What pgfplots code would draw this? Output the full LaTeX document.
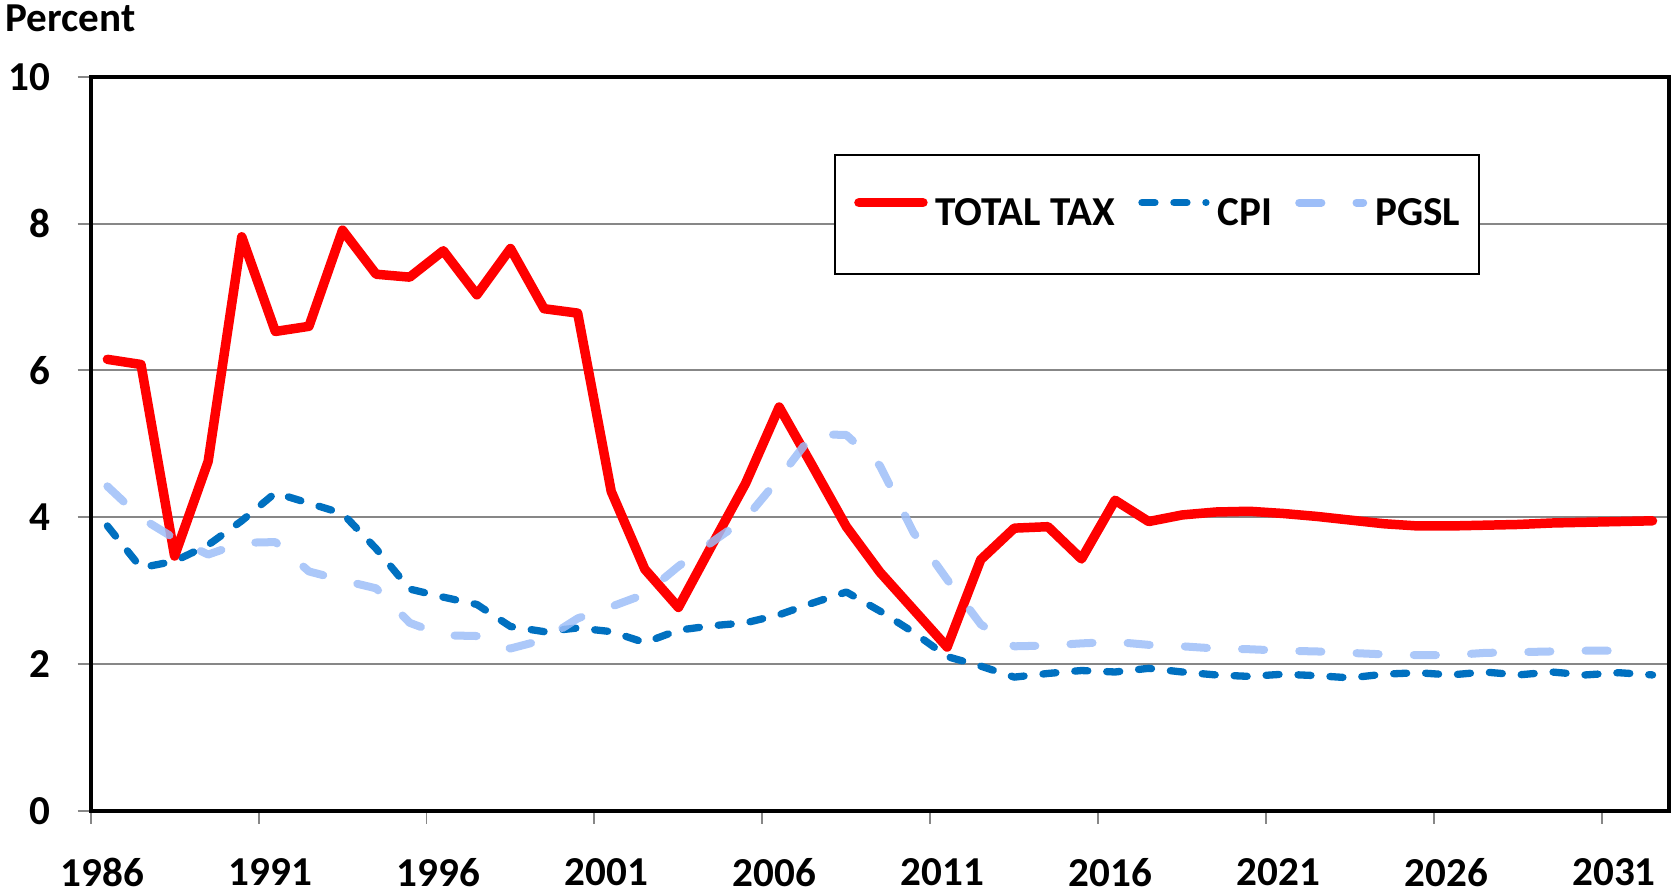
\documentclass[border=0pt]{standalone}
\usepackage{fontspec}
\setmainfont{Carlito}
\usepackage{pgfplots}
\pgfplotsset{compat=1.18}
\definecolor{taxred}{HTML}{FF0000}
\definecolor{cpiblue}{HTML}{0070C0}
\definecolor{pgslblue}{HTML}{9DBEF8}
\definecolor{gridgray}{HTML}{878787}
\newcommand{\lblfont}{\fontsize{11.7}{14}\selectfont\bfseries}

\begin{document}
\begin{tikzpicture}
\begin{axis}[
  scale only axis,
  width=15.787cm, height=7.339cm,
  xmin=1986, xmax=2033,
  ymin=0, ymax=10,
  xtick={1986,1991,1996,2001,2006,2011,2016,2021,2026,2031},
  xticklabels={1986,1991,1996,2001,2006,2011,2016,2021,2026,2031},
  ytick={0,2,4,6,8,10},
  yticklabels={0,2,4,6,8,10},
  xtick pos=left, ytick pos=left,
  ymajorgrids,
  grid style={gridgray, line width=0.55pt},
  axis line style={black, line width=1.1pt},
  tick align=outside,
  major tick length=0.13cm,
  tick style={gridgray, line width=0.55pt},
  ticklabel style={font=\lblfont},
  xticklabel style={inner sep=0pt, anchor=north, yshift=-0.34cm, xshift=0.12cm},
  yticklabel style={inner sep=0pt, anchor=east, xshift=-0.27cm},
  legend columns=3,
  legend image code/.code={\draw[#1] (0cm,0.12cm) -- (0.64cm,0.12cm);},
  legend style={at={(0.471,0.895)}, anchor=north west, draw=black, line width=0.6pt,
    fill=white, inner xsep=0.19cm, inner ysep=0.43cm, font=\lblfont,
    nodes={inner sep=0pt},
    /tikz/every odd column/.append style={column sep=0.08cm},
    /tikz/every even column/.append style={column sep=0.23cm}},
  every axis plot/.append style={line join=round, line cap=round},
]
\addlegendimage{taxred, line width=2.7pt}
\addlegendentry{TOTAL TAX}
\addlegendimage{cpiblue, line width=2.08pt, dash pattern=on 3.7pt off 5.4pt}
\addlegendentry{CPI}
\addlegendimage{pgslblue, line width=2.28pt, dash pattern=on 6.3pt off 10pt}
\addlegendentry{PGSL}

% CPI
\addplot[forget plot, cpiblue, line width=2.08pt, dash pattern=on 3.7pt off 5.4pt] coordinates {
(1986.5,3.88) (1987.5,3.31) (1988.5,3.40) (1989.5,3.62) (1990.5,3.95)
(1991.5,4.33) (1992.5,4.19) (1993.5,4.05) (1994.5,3.57) (1995.5,3.02)
(1996.5,2.91) (1997.5,2.81) (1998.5,2.51) (1999.5,2.44) (2000.5,2.49)
(2001.5,2.44) (2002.5,2.29) (2003.5,2.46) (2004.5,2.52) (2005.5,2.56)
(2006.5,2.67) (2007.5,2.83) (2008.5,2.98) (2009.5,2.72) (2010.5,2.43)
(2011.5,2.10) (2012.5,1.97) (2013.5,1.82) (2014.5,1.87) (2015.5,1.91)
(2016.5,1.89) (2017.5,1.94) (2018.5,1.89) (2019.5,1.85) (2020.5,1.83)
(2021.5,1.86) (2022.5,1.84) (2023.5,1.81) (2024.5,1.86) (2025.5,1.88)
(2026.5,1.85) (2027.5,1.89) (2028.5,1.85) (2029.5,1.89) (2030.5,1.85)
(2031.5,1.88) (2032.5,1.85)
};
% TOTAL TAX
\addplot[forget plot, taxred, line width=2.7pt] coordinates {
(1986.5,6.15) (1987.5,6.08) (1988.5,3.47) (1989.5,4.76) (1990.5,7.82)
(1991.5,6.53) (1992.5,6.60) (1993.5,7.91) (1994.5,7.31) (1995.5,7.27)
(1996.5,7.63) (1997.5,7.03) (1998.5,7.66) (1999.5,6.84) (2000.5,6.78)
(2001.5,4.35) (2002.5,3.29) (2003.5,2.77) (2004.5,3.62) (2005.5,4.46)
(2006.5,5.50) (2007.5,4.69) (2008.5,3.87) (2009.5,3.25) (2010.5,2.74)
(2011.5,2.23) (2012.5,3.42) (2013.5,3.85) (2014.5,3.87) (2015.5,3.43)
(2016.5,4.23) (2017.5,3.94) (2018.5,4.03) (2019.5,4.07) (2020.5,4.08)
(2021.5,4.05) (2022.5,4.01) (2023.5,3.96) (2024.5,3.91) (2025.5,3.88)
(2026.5,3.88) (2027.5,3.89) (2028.5,3.90) (2029.5,3.92) (2030.5,3.93)
(2031.5,3.94) (2032.5,3.95)
};
% PGSL
\addplot[forget plot, pgslblue, opacity=0.85, line width=2.28pt, dash pattern=on 6.3pt off 10pt] coordinates {
(1986.5,4.42) (1987.5,3.99) (1988.5,3.71) (1989.5,3.49) (1990.5,3.65)
(1991.5,3.66) (1992.5,3.26) (1993.5,3.14) (1994.5,3.03) (1995.5,2.56)
(1996.5,2.39) (1997.5,2.38) (1998.5,2.21) (1999.5,2.33) (2000.5,2.62)
(2001.5,2.78) (2002.5,2.95) (2003.5,3.33) (2004.5,3.66) (2005.5,3.98)
(2006.5,4.53) (2007.5,5.13) (2008.5,5.12) (2009.5,4.70) (2010.5,3.79)
(2011.5,3.15) (2012.5,2.54) (2013.5,2.24) (2014.5,2.25) (2015.5,2.28)
(2016.5,2.30) (2017.5,2.26) (2018.5,2.24) (2019.5,2.21) (2020.5,2.20)
(2021.5,2.18) (2022.5,2.17) (2023.5,2.15) (2024.5,2.13) (2025.5,2.12)
(2026.5,2.12) (2027.5,2.15) (2028.5,2.16) (2029.5,2.17) (2030.5,2.18)
(2031.5,2.18)
};
\end{axis}
\node[anchor=base west, inner sep=0pt, font=\lblfont] at (-0.856cm,7.787cm) {Percent};
\pgfresetboundingbox
\path[use as bounding box] (-0.906cm,-0.843cm) rectangle (15.814cm,8.107cm);
\end{tikzpicture}
\end{document}
